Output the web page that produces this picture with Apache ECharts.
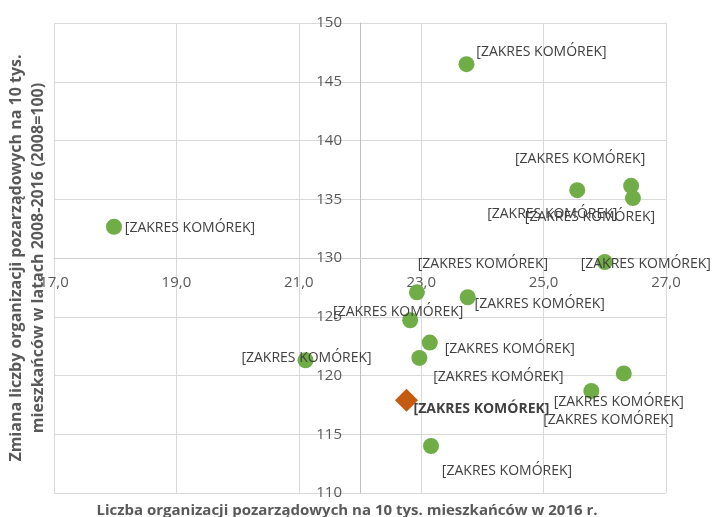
<!DOCTYPE html>
<html>
<head>
<meta charset="utf-8">
<title>scatter</title>
<script src="https://cdn.jsdelivr.net/npm/echarts@6/dist/echarts.min.js"></script>
<style>
    html, body { margin: 0; padding: 0; background: #fff; }
    .chart { width: 713px; height: 517px; }
</style>
</head>
<body>
<div class="chart"></div>
<script>
// dane - gminy (zielone punkty)
var xGminy = [17.98, 23.74, 25.55, 26.43, 26.46, 26.0, 22.93, 23.76, 22.82, 23.14, 22.97, 21.11, 26.31, 25.78, 23.16];
var yGminy = [132.66, 146.5, 135.77, 136.14, 135.1, 129.66, 127.08, 126.66, 124.7, 122.8, 121.5, 121.3, 120.18, 118.68, 114.0];
// punkt wyrozniony (romb)
var xPowiat = [22.76];
var yPowiat = [117.9];
var labelText = '[ZAKRES KOMÓREK]';
// przesuniecie etykiet wzgledem punktu
var labelOffsets = [[76, 1], [75, -12], [-25, 24], [-51, -27], [-43, 19], [41, 2], [66, -28], [72, 7],
    [-12, -8], [80, 6], [79, 19], [1, -2], [-5, 29], [17, 29], [76, 25]];
var powiatOffset = [75, 9];
var xTicks = [17, 27, 2];   // min, max, interval
var yTicks = [110, 150, 5];

(function () {
    var mycharts = echarts.init(document.querySelector('.chart'));
    var font = '"Open Sans", sans-serif';

    var gminyData = xGminy.map(function (x, i) {
        return { value: [x, yGminy[i]], label: { offset: labelOffsets[i] } };
    });
    var powiatData = xPowiat.map(function (x, i) {
        return { value: [x, yPowiat[i]], label: { offset: powiatOffset } };
    });

    var option = {
        animation: false,
        grid: {
            top: 23,
            bottom: 24,
            left: 54,
            right: 47,
            outerBoundsMode: 'none',
            containLabel: false
        },
        xAxis: {
            type: 'value',
            min: xTicks[0],
            max: xTicks[1],
            interval: xTicks[2],
            // os x przecina os y przy 130
            offset: -235,
            axisLine: { onZero: false, lineStyle: { color: '#cfcfcf' } },
            axisTick: { show: false },
            axisLabel: {
                color: '#595959',
                fontSize: 15,
                fontFamily: font,
                margin: 17,
                formatter: function (v) { return v.toFixed(1).replace('.', ','); }
            },
            splitLine: { lineStyle: { color: '#d9d9d9' } },
            name: 'Liczba organizacji pozarządowych na 10 tys. mieszkańców w 2016 r.',
            nameLocation: 'middle',
            nameGap: 245,
            nameTextStyle: {
                color: '#595959',
                fontSize: 15,
                fontWeight: 'bold',
                fontFamily: font,
                padding: [0, 26, 0, 0]
            }
        },
        yAxis: {
            type: 'value',
            min: yTicks[0],
            max: yTicks[1],
            interval: yTicks[2],
            // os y przecina os x przy 22
            offset: -306,
            axisLine: { show: true, onZero: false, lineStyle: { color: '#bfbfbf' } },
            axisTick: { show: false },
            axisLabel: {
                color: '#595959',
                fontSize: 15,
                fontFamily: font,
                margin: 18
            },
            splitLine: { lineStyle: { color: '#d9d9d9' } },
            name: 'Zmiana liczby organizacji pozarządowych na 10 tys.\nmieszkańców w latach 2008-2016 (2008=100)',
            nameLocation: 'middle',
            nameGap: 311,
            nameTextStyle: {
                color: '#595959',
                fontSize: 16,
                fontWeight: 'bold',
                fontFamily: font,
                lineHeight: 22,
                align: 'center'
            }
        },
        series: [
            {
                name: 'gminy',
                type: 'scatter',
                symbolSize: 16,
                data: gminyData,
                itemStyle: { color: '#70ad47', opacity: 1 },
                label: {
                    show: true,
                    position: 'inside',
                    formatter: labelText,
                    color: '#404040',
                    fontSize: 14,
                    fontFamily: font
                }
            },
            {
                name: 'powiat',
                type: 'scatter',
                symbol: 'diamond',
                symbolSize: 23,
                data: powiatData,
                itemStyle: { color: '#c55a11', opacity: 1 },
                label: {
                    show: true,
                    position: 'inside',
                    formatter: labelText,
                    color: '#404040',
                    fontSize: 14,
                    fontWeight: 'bold',
                    fontFamily: font
                }
            }
        ]
    };

    mycharts.setOption(option);
    window.addEventListener('resize', function () {
        mycharts.resize();
    })
})();
</script>
</body>
</html>
